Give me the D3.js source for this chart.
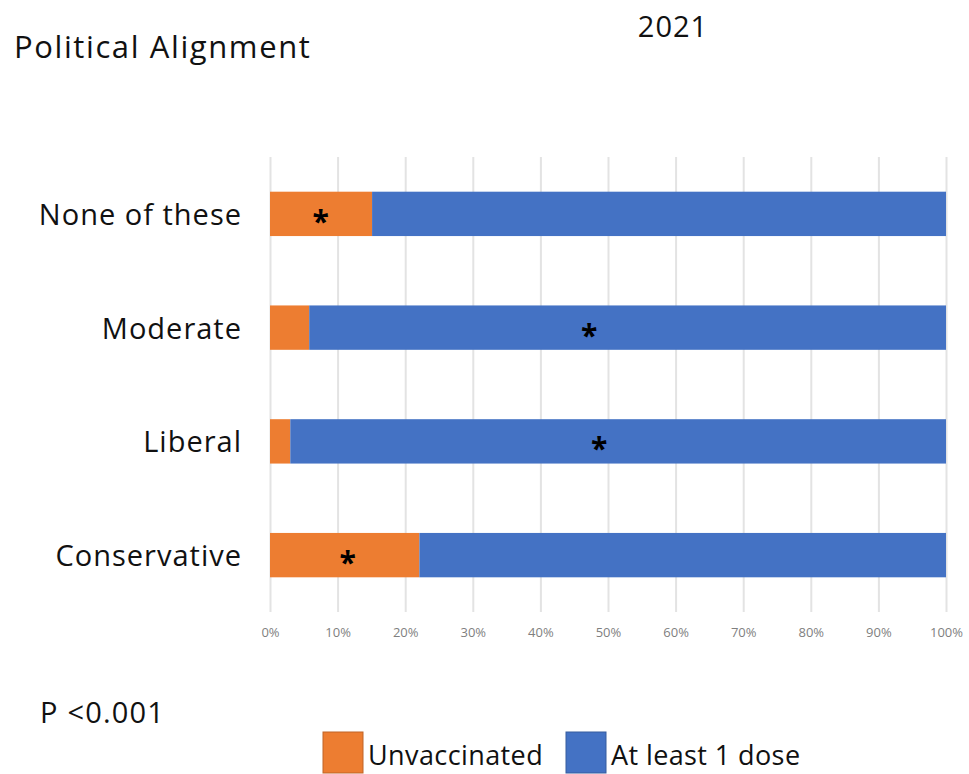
<!DOCTYPE html>
<html lang="en">
  <head>
    <script src="https://d3js.org/d3.v7.min.js"></script>
    <style>
      body { margin: 0; background: #fff; }
      text { font-family: "Open Sans", sans-serif; }
    </style>
  </head>
  <body>
    <svg width="969" height="774"></svg>
    <script>
      // data
      var categories = ["None of these", "Moderate", "Liberal", "Conservative"];
      var unvaccinated = [0.151, 0.058, 0.03, 0.221];
      var atLeastOne = [0.849, 0.942, 0.97, 0.779];
      // where the significance stars sit (share of the axis)
      var starPos = [0.075, 0.472, 0.487, 0.115];
      var tickValues = [0, 0.1, 0.2, 0.3, 0.4, 0.5, 0.6, 0.7, 0.8, 0.9, 1];
      var seriesNames = ["Unvaccinated", "At least 1 dose"];
      var colors = ["#ED7D31", "#4472C4"];

      var svg = d3.select("svg");

      var xScale = d3.scaleLinear().domain([0, 1]).range([270, 946]);
      var yScale = d3.scaleBand().domain(categories).range([157, 612])
        .paddingInner(0.61).paddingOuter(0.305);

      // gridlines and tick labels
      var xAxis = svg.append("g")
        .attr("transform", "translate(0,612)")
        .call(d3.axisBottom(xScale).tickValues(tickValues)
          .tickFormat(d3.format(".0%")).tickSize(-455).tickPadding(16));
      xAxis.select(".domain").remove();
      xAxis.selectAll(".tick line").attr("stroke", "#e3e3e3").attr("stroke-width", 2);
      xAxis.selectAll(".tick text")
        .attr("fill", "#7f7f7f")
        .style("font-size", "13px")
        .style("font-family", "Open Sans, sans-serif");

      // stacked bars
      var rows = categories.map(function (c, i) {
        return { cat: c, u: unvaccinated[i], a: atLeastOne[i], star: starPos[i] };
      });

      svg.append("g").selectAll("rect")
        .data(rows).enter().append("rect")
        .attr("x", xScale(0))
        .attr("y", function (d) { return yScale(d.cat); })
        .attr("width", function (d) { return xScale(d.u) - xScale(0); })
        .attr("height", yScale.bandwidth())
        .attr("fill", colors[0]);

      svg.append("g").selectAll("rect")
        .data(rows).enter().append("rect")
        .attr("x", function (d) { return xScale(d.u); })
        .attr("y", function (d) { return yScale(d.cat); })
        .attr("width", function (d) { return xScale(d.u + d.a) - xScale(d.u); })
        .attr("height", yScale.bandwidth())
        .attr("fill", colors[1]);

      // stars
      svg.append("g").selectAll("text")
        .data(rows).enter().append("text")
        .attr("x", function (d) { return xScale(d.star); })
        .attr("y", function (d) { return yScale(d.cat) + yScale.bandwidth() / 2 + 18; })
        .attr("text-anchor", "middle")
        .style("font-size", "30px")
        .style("font-weight", "bold")
        .text("*");

      // category labels
      svg.append("g").selectAll("text")
        .data(categories).enter().append("text")
        .attr("x", 242)
        .attr("y", function (d) { return yScale(d) + yScale.bandwidth() / 2 + 11; })
        .attr("text-anchor", "end")
        .style("font-size", "29px")
        .style("letter-spacing", "1px")
        .attr("fill", "#111")
        .text(function (d) { return d; });

      // titles
      svg.append("text").attr("x", 14).attr("y", 58)
        .style("font-size", "31px").style("letter-spacing", "1.6px").attr("fill", "#111")
        .text("Political Alignment");
      svg.append("text").attr("x", 673).attr("y", 37)
        .attr("text-anchor", "middle")
        .style("font-size", "29px").style("letter-spacing", "1px").attr("fill", "#111")
        .text("2021");
      svg.append("text").attr("x", 40).attr("y", 723)
        .style("font-size", "29px").style("letter-spacing", "1.2px").attr("fill", "#111")
        .text("P <0.001");

      // legend
      var legendX = [323, 566];
      var legend = svg.append("g").selectAll("g")
        .data(seriesNames).enter().append("g")
        .attr("transform", function (d, i) { return "translate(" + legendX[i] + ",732)"; });
      legend.append("rect")
        .attr("width", 40).attr("height", 41)
        .attr("fill", function (d, i) { return colors[i]; })
        .attr("stroke", function (d, i) { return d3.color(colors[i]).darker(0.6); })
        .attr("stroke-width", 1);
      legend.append("text")
        .attr("x", 45).attr("y", 33)
        .style("font-size", "27px").style("letter-spacing", "0.4px").attr("fill", "#111")
        .text(function (d) { return d; });
    </script>
  </body>
</html>
